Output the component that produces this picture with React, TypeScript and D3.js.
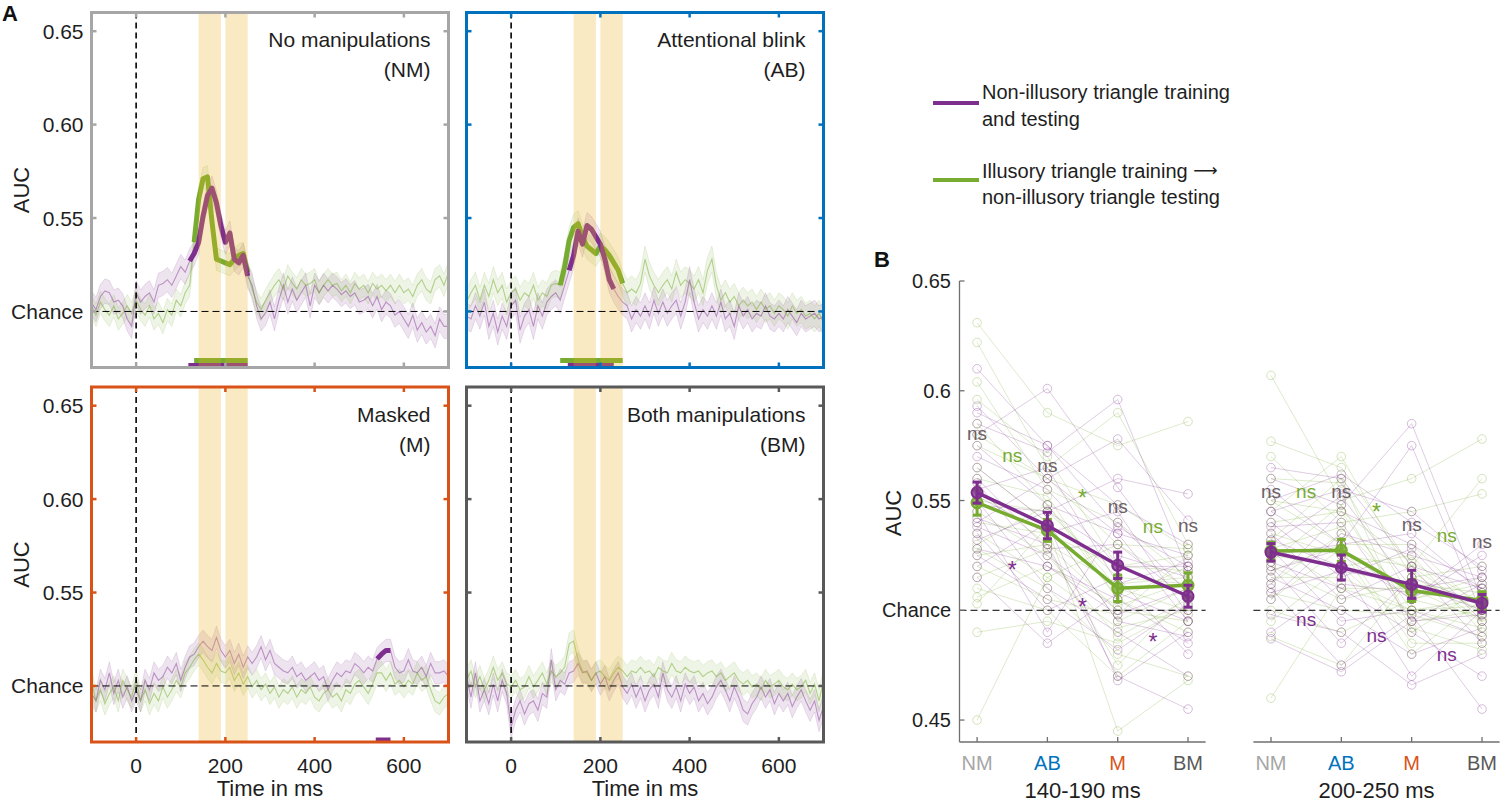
import React from "react";
import * as d3 from "d3";

const FONT = "'Liberation Sans', Arial, Helvetica, sans-serif";
const PURPLE = "#7E2F8E";
const GREEN = "#77AC30";
const YELLOW = "#EDB120";
const INK = "#1e1e1e";

// ---------- panel A: decoding time courses (10 ms steps, -100..700 ms) ----------
const times = d3.range(-100, 701, 10);

const nmPurple = [
  0.5046, 0.501, 0.508, 0.511, 0.51, 0.505, 0.506, 0.503, 0.496, 0.492,
  0.51, 0.505, 0.508, 0.51, 0.505, 0.514, 0.515, 0.517, 0.514, 0.519,
  0.524, 0.521, 0.527, 0.531, 0.537, 0.551, 0.562, 0.566, 0.558, 0.546,
  0.537, 0.542, 0.528, 0.526, 0.53, 0.519, 0.514, 0.503, 0.496, 0.499,
  0.505, 0.496, 0.506, 0.514, 0.505, 0.512, 0.506, 0.51, 0.514, 0.503,
  0.514, 0.51, 0.514, 0.511, 0.514, 0.512, 0.509, 0.511, 0.508, 0.51,
  0.505, 0.506, 0.508, 0.503, 0.508, 0.501, 0.505, 0.503, 0.498, 0.5,
  0.496, 0.492, 0.498, 0.49, 0.494, 0.489, 0.492, 0.487, 0.496, 0.492,
  0.492,
];
const nmGreen = [
  0.503, 0.498, 0.505, 0.501, 0.498, 0.503, 0.496, 0.499, 0.503, 0.499,
  0.506, 0.501, 0.498, 0.503, 0.496, 0.499, 0.494, 0.501, 0.498, 0.506,
  0.503, 0.51, 0.514, 0.537, 0.56, 0.571, 0.572, 0.548, 0.528, 0.527,
  0.526, 0.525, 0.528, 0.53, 0.531, 0.521, 0.512, 0.505, 0.501, 0.506,
  0.51, 0.514, 0.517, 0.512, 0.519, 0.515, 0.512, 0.517, 0.514, 0.515,
  0.517, 0.51, 0.514, 0.517, 0.514, 0.515, 0.511, 0.514, 0.51, 0.515,
  0.512, 0.514, 0.51, 0.515, 0.512, 0.514, 0.511, 0.514, 0.51, 0.514,
  0.51, 0.512, 0.508, 0.514, 0.517, 0.512, 0.51, 0.517, 0.519, 0.514,
  0.521,
];
const abPurple = [
  0.4975, 0.496, 0.503, 0.4975, 0.505, 0.492, 0.499, 0.489, 0.4975, 0.492,
  0.503, 0.506, 0.49, 0.4975, 0.501, 0.492, 0.503, 0.4975, 0.505, 0.508,
  0.51, 0.506, 0.514, 0.522, 0.53, 0.543, 0.536, 0.546, 0.544, 0.54,
  0.536, 0.528, 0.517, 0.512, 0.508, 0.505, 0.503, 0.496, 0.501, 0.4975,
  0.503, 0.4975, 0.506, 0.499, 0.505, 0.499, 0.503, 0.506, 0.4975, 0.505,
  0.517, 0.505, 0.496, 0.501, 0.4975, 0.503, 0.4975, 0.505, 0.496, 0.499,
  0.492, 0.503, 0.4975, 0.501, 0.496, 0.499, 0.4975, 0.503, 0.4975, 0.496,
  0.499, 0.496, 0.501, 0.4975, 0.494, 0.499, 0.496, 0.4975, 0.499, 0.496,
  0.4975,
];
const abGreen = [
  0.505, 0.51, 0.514, 0.506, 0.514, 0.508, 0.517, 0.51, 0.514, 0.505,
  0.51, 0.512, 0.506, 0.51, 0.508, 0.514, 0.506, 0.51, 0.508, 0.514,
  0.515, 0.514, 0.524, 0.538, 0.545, 0.547, 0.54, 0.535, 0.533, 0.531,
  0.535, 0.533, 0.53, 0.526, 0.522, 0.515, 0.51, 0.512, 0.51, 0.515,
  0.528, 0.519, 0.514, 0.51, 0.514, 0.517, 0.512, 0.521, 0.514, 0.517,
  0.515, 0.512, 0.517, 0.51, 0.522, 0.528, 0.514, 0.506, 0.51, 0.505,
  0.508, 0.503, 0.506, 0.503, 0.505, 0.501, 0.505, 0.501, 0.503, 0.499,
  0.503, 0.501, 0.4975, 0.503, 0.499, 0.501, 0.4975, 0.499, 0.496, 0.499,
  0.494,
];
const mPurple = [
  0.496, 0.492, 0.503, 0.498, 0.507, 0.496, 0.503, 0.494, 0.4995, 0.492,
  0.498, 0.492, 0.503, 0.498, 0.507, 0.503, 0.505, 0.51, 0.507, 0.512,
  0.503, 0.51, 0.5155, 0.517, 0.521, 0.524, 0.521, 0.519, 0.526, 0.519,
  0.5155, 0.519, 0.512, 0.517, 0.51, 0.5155, 0.512, 0.5155, 0.521, 0.514,
  0.519, 0.512, 0.51, 0.508, 0.507, 0.51, 0.505, 0.507, 0.503, 0.505,
  0.507, 0.503, 0.505, 0.498, 0.503, 0.507, 0.505, 0.508, 0.507, 0.512,
  0.51, 0.507, 0.51, 0.508, 0.5145, 0.517, 0.519, 0.519, 0.51, 0.507,
  0.508, 0.514, 0.508, 0.507, 0.51, 0.505, 0.512, 0.507, 0.507, 0.508,
  0.505,
];
const mGreen = [
  0.503, 0.492, 0.498, 0.4905, 0.496, 0.4995, 0.492, 0.503, 0.498, 0.494,
  0.503, 0.492, 0.498, 0.4905, 0.496, 0.492, 0.4995, 0.494, 0.498, 0.503,
  0.4995, 0.507, 0.51, 0.514, 0.517, 0.514, 0.51, 0.507, 0.512, 0.508,
  0.507, 0.51, 0.503, 0.507, 0.501, 0.505, 0.4995, 0.503, 0.498, 0.501,
  0.496, 0.4995, 0.494, 0.498, 0.496, 0.4995, 0.494, 0.498, 0.496, 0.4995,
  0.494, 0.492, 0.496, 0.498, 0.494, 0.496, 0.492, 0.498, 0.496, 0.501,
  0.503, 0.4995, 0.496, 0.501, 0.507, 0.507, 0.503, 0.507, 0.501, 0.503,
  0.4995, 0.503, 0.501, 0.507, 0.503, 0.505, 0.498, 0.492, 0.4905, 0.494,
  0.496,
];
const bmPurple = [
  0.505, 0.494, 0.507, 0.492, 0.498, 0.4905, 0.501, 0.492, 0.503, 0.496,
  0.478, 0.487, 0.492, 0.485, 0.4905, 0.492, 0.487, 0.496, 0.494, 0.514,
  0.498, 0.503, 0.501, 0.507, 0.508, 0.512, 0.507, 0.508, 0.503, 0.507,
  0.501, 0.505, 0.498, 0.503, 0.507, 0.4995, 0.496, 0.501, 0.494, 0.4995,
  0.492, 0.498, 0.501, 0.494, 0.507, 0.498, 0.494, 0.4995, 0.492, 0.501,
  0.496, 0.4995, 0.492, 0.496, 0.4905, 0.494, 0.4995, 0.503, 0.498, 0.492,
  0.4995, 0.494, 0.487, 0.485, 0.4905, 0.494, 0.4995, 0.494, 0.498, 0.4905,
  0.496, 0.492, 0.496, 0.489, 0.494, 0.498, 0.492, 0.487, 0.492, 0.4815,
  0.489,
];
const bmGreen = [
  0.503, 0.508, 0.4995, 0.505, 0.498, 0.503, 0.51, 0.503, 0.507, 0.501,
  0.4995, 0.503, 0.498, 0.4995, 0.505, 0.4995, 0.503, 0.507, 0.501, 0.508,
  0.505, 0.507, 0.51, 0.5225, 0.524, 0.514, 0.508, 0.507, 0.503, 0.507,
  0.508, 0.505, 0.503, 0.507, 0.51, 0.508, 0.505, 0.508, 0.507, 0.51,
  0.507, 0.508, 0.505, 0.51, 0.508, 0.507, 0.512, 0.508, 0.507, 0.51,
  0.508, 0.507, 0.508, 0.505, 0.507, 0.508, 0.505, 0.507, 0.503, 0.505,
  0.507, 0.503, 0.501, 0.503, 0.4995, 0.501, 0.498, 0.503, 0.4995, 0.501,
  0.503, 0.4995, 0.498, 0.501, 0.498, 0.4995, 0.503, 0.496, 0.501, 0.492,
  0.503,
];

const conditionTitles = ["No manipulations", "Attentional blink", "Masked", "Both manipulations"];
const conditionAbbr = ["NM", "AB", "M", "BM"];
const conditionColors = ["#a6a6a6", "#0072BD", "#D95319", "#595959"];
const purpleSeries = [nmPurple, abPurple, mPurple, bmPurple];
const greenSeries = [nmGreen, abGreen, mGreen, bmGreen];
const purpleSem = [0.0065, 0.007, 0.006, 0.006];
const greenSem = [0.006, 0.007, 0.006, 0.006];
// significant clusters [start, end] in ms (null = none)
const purpleSig: (number[] | null)[] = [[120, 250], [130, 230], [540, 570], null];
const greenSig: (number[] | null)[] = [[130, 250], [110, 250], null, null];
const windowsMs = [[140, 190], [200, 250]];

const aYTicks = [0.5, 0.55, 0.6, 0.65];
const aYLabels = ["Chance", "0.55", "0.60", "0.65"];
const aXTicks = [0, 200, 400, 600];

// ---------- panel B: single-subject AUC per condition ----------
const bCategories = ["NM", "AB", "M", "BM"];
const bYTicks = [0.45, 0.5, 0.55, 0.6, 0.65];
const bYLabels = ["0.45", "Chance", "0.55", "0.6", "0.65"];
const bWindowLabels = ["140-190 ms", "200-250 ms"];

const early_purple = [
  [0.61, 0.575, 0.548, 0.53], [0.593, 0.56, 0.578, 0.541], [0.585, 0.572, 0.596, 0.518],
  [0.58, 0.601, 0.556, 0.512], [0.575, 0.548, 0.535, 0.495], [0.57, 0.555, 0.52, 0.52],
  [0.565, 0.54, 0.468, 0.49], [0.56, 0.528, 0.53, 0.505], [0.558, 0.52, 0.505, 0.485],
  [0.555, 0.565, 0.512, 0.522], [0.552, 0.535, 0.545, 0.498], [0.55, 0.51, 0.49, 0.47],
  [0.548, 0.545, 0.525, 0.515], [0.545, 0.49, 0.54, 0.508], [0.542, 0.53, 0.47, 0.455],
  [0.54, 0.56, 0.535, 0.525], [0.538, 0.525, 0.5, 0.5], [0.535, 0.5, 0.515, 0.48],
  [0.532, 0.545, 0.56, 0.553], [0.528, 0.52, 0.498, 0.51], [0.525, 0.505, 0.482, 0.503],
  [0.52, 0.54, 0.495, 0.488], [0.515, 0.485, 0.508, 0.495], [0.59, 0.575, 0.538, 0.52],
];
const early_green = [
  [0.631, 0.59, 0.575, 0.586], [0.622, 0.565, 0.59, 0.53], [0.604, 0.555, 0.54, 0.515],
  [0.596, 0.57, 0.52, 0.525], [0.585, 0.548, 0.51, 0.5], [0.575, 0.56, 0.53, 0.528],
  [0.565, 0.54, 0.495, 0.51], [0.56, 0.552, 0.505, 0.52], [0.555, 0.53, 0.5, 0.495],
  [0.55, 0.545, 0.515, 0.512], [0.545, 0.525, 0.488, 0.505], [0.54, 0.535, 0.52, 0.518],
  [0.535, 0.515, 0.492, 0.5], [0.53, 0.548, 0.505, 0.49], [0.528, 0.51, 0.48, 0.47],
  [0.525, 0.53, 0.512, 0.515], [0.52, 0.505, 0.498, 0.525], [0.515, 0.528, 0.475, 0.508],
  [0.51, 0.5, 0.47, 0.495], [0.506, 0.52, 0.502, 0.513], [0.503, 0.538, 0.445, 0.468],
  [0.49, 0.495, 0.485, 0.502], [0.45, 0.515, 0.53, 0.51], [0.58, 0.56, 0.548, 0.528],
];
const late_purple = [
  [0.565, 0.56, 0.52, 0.51], [0.56, 0.548, 0.585, 0.505], [0.555, 0.53, 0.575, 0.498],
  [0.55, 0.562, 0.54, 0.52], [0.545, 0.525, 0.505, 0.53], [0.54, 0.515, 0.528, 0.495],
  [0.538, 0.54, 0.495, 0.512], [0.535, 0.505, 0.52, 0.485], [0.532, 0.52, 0.47, 0.5],
  [0.53, 0.552, 0.51, 0.515], [0.528, 0.495, 0.5, 0.488], [0.525, 0.53, 0.535, 0.508],
  [0.522, 0.51, 0.49, 0.47], [0.52, 0.485, 0.515, 0.503], [0.518, 0.528, 0.505, 0.525],
  [0.515, 0.5, 0.48, 0.492], [0.512, 0.545, 0.53, 0.51], [0.51, 0.475, 0.498, 0.455],
  [0.508, 0.518, 0.512, 0.5], [0.505, 0.535, 0.525, 0.515], [0.498, 0.49, 0.466, 0.48],
  [0.49, 0.512, 0.508, 0.505], [0.487, 0.472, 0.495, 0.498], [0.545, 0.555, 0.545, 0.518],
];
const late_green = [
  [0.607, 0.55, 0.56, 0.578], [0.577, 0.565, 0.52, 0.56], [0.57, 0.54, 0.545, 0.553],
  [0.56, 0.558, 0.505, 0.515], [0.55, 0.53, 0.53, 0.5], [0.545, 0.57, 0.515, 0.52],
  [0.54, 0.545, 0.5, 0.505], [0.535, 0.525, 0.52, 0.498], [0.532, 0.56, 0.49, 0.51],
  [0.53, 0.51, 0.51, 0.495], [0.528, 0.538, 0.505, 0.512], [0.525, 0.52, 0.525, 0.49],
  [0.522, 0.548, 0.495, 0.5], [0.52, 0.505, 0.512, 0.508], [0.518, 0.53, 0.485, 0.485],
  [0.515, 0.515, 0.5, 0.502], [0.512, 0.535, 0.518, 0.495], [0.508, 0.5, 0.498, 0.488],
  [0.505, 0.528, 0.48, 0.505], [0.5, 0.49, 0.505, 0.497], [0.495, 0.52, 0.492, 0.482],
  [0.488, 0.475, 0.515, 0.5], [0.46, 0.51, 0.5, 0.492], [0.55, 0.545, 0.522, 0.503],
];

const earlyMeanPurple = [0.5536, 0.5386, 0.5205, 0.5064];
const earlyErrPurple = [0.0048, 0.006, 0.006, 0.005];
const earlyMeanGreen = [0.549, 0.5364, 0.51, 0.5114];
const earlyErrGreen = [0.0057, 0.005, 0.006, 0.0057];
const lateMeanPurple = [0.5264, 0.5195, 0.5118, 0.5032];
const lateErrPurple = [0.004, 0.0057, 0.0064, 0.004];
const lateMeanGreen = [0.527, 0.5273, 0.509, 0.5045];
const lateErrGreen = [0.004, 0.005, 0.005, 0.004];

// statistics labels: [category position, AUC, text, group]
const earlyStats: [number, number, string, string][] = [
  [1, 0.5798, "ns", "both"], [1.5, 0.5698, "ns", "green"], [2, 0.5653, "ns", "both"],
  [2.5, 0.5534, "*", "green"], [3, 0.5466, "ns", "both"], [3.5, 0.5375, "ns", "green"],
  [4, 0.5379, "ns", "both"], [1.5, 0.5206, "*", "purple"], [2.5, 0.5038, "*", "purple"],
  [3.5, 0.4878, "*", "purple"],
];
const lateStats: [number, number, string, string][] = [
  [1, 0.5534, "ns", "both"], [1.5, 0.5534, "ns", "green"], [2, 0.5534, "ns", "both"],
  [2.5, 0.5471, "*", "green"], [3, 0.5384, "ns", "both"], [3.5, 0.5334, "ns", "green"],
  [4, 0.5306, "ns", "both"], [1.5, 0.4951, "ns", "purple"], [2.5, 0.4878, "ns", "purple"],
  [3.5, 0.4792, "ns", "purple"],
];

const statColor: Record<string, string> = { both: "#6b6166", green: GREEN, purple: PURPLE };

// ---------- layout ----------
const PW = 357;
const PH = 355;
const panelX = [91.5, 466.5];
const panelY = [12.5, 387];

function TimePanel({ idx }: { idx: number }) {
  const col = idx % 2;
  const row = Math.floor(idx / 2);
  const x0 = panelX[col];
  const y0 = panelY[row];
  const x = d3.scaleLinear().domain([-100, 700]).range([x0, x0 + PW]);
  const y = d3.scaleLinear().domain([0.47, 0.66]).range([y0 + PH, y0]);
  const frame = conditionColors[idx];

  const line = d3.line<number>().x((_, i) => x(times[i])).y((d) => y(d));
  const area = (sem: number) =>
    d3.area<number>().x((_, i) => x(times[i])).y0((d) => y(d - sem)).y1((d) => y(d + sem));
  const sigLine = (sig: number[]) =>
    d3
      .line<number>()
      .defined((_, i) => times[i] >= sig[0] && times[i] <= sig[1])
      .x((_, i) => x(times[i]))
      .y((d) => y(d));

  const pS = purpleSeries[idx];
  const gS = greenSeries[idx];
  const pSig = purpleSig[idx];
  const gSig = greenSig[idx];
  const clipId = `clipA${idx}`;
  const tl = 5;

  return (
    <g>
      <defs>
        <clipPath id={clipId}>
          <rect x={x0} y={y0} width={PW} height={PH} />
        </clipPath>
      </defs>
      <g clipPath={`url(#${clipId})`}>
        <path d={area(purpleSem[idx])(pS) || ""} fill={PURPLE} fillOpacity={0.13} stroke={PURPLE} strokeOpacity={0.18} strokeWidth={0.8} />
        <path d={area(greenSem[idx])(gS) || ""} fill={GREEN} fillOpacity={0.12} stroke={GREEN} strokeOpacity={0.18} strokeWidth={0.8} />
        <path d={line(pS) || ""} fill="none" stroke={PURPLE} strokeOpacity={0.45} strokeWidth={1.1} />
        <path d={line(gS) || ""} fill="none" stroke={GREEN} strokeOpacity={0.5} strokeWidth={1.1} />
        {gSig && <path d={sigLine(gSig)(gS) || ""} fill="none" stroke={GREEN} strokeWidth={5} strokeLinejoin="round" />}
        {pSig && <path d={sigLine(pSig)(pS) || ""} fill="none" stroke={PURPLE} strokeWidth={5} strokeLinejoin="round" />}
        {gSig && <line x1={x(gSig[0])} x2={x(gSig[1])} y1={y0 + PH - 7} y2={y0 + PH - 7} stroke={GREEN} strokeWidth={5} />}
        {pSig && <line x1={x(pSig[0] - 3)} x2={x(pSig[1])} y1={y0 + PH - 2} y2={y0 + PH - 2} stroke={PURPLE} strokeWidth={5} />}
        {windowsMs.map((w, i) => (
          <rect key={i} x={x(w[0])} y={y0} width={x(w[1]) - x(w[0])} height={PH} fill={YELLOW} fillOpacity={0.27} />
        ))}
        <line x1={x(0)} x2={x(0)} y1={y0} y2={y0 + PH} stroke="#000" strokeWidth={1.6} strokeDasharray="6,4" />
        <line x1={x0} x2={x0 + PW} y1={y(0.5)} y2={y(0.5)} stroke="#000" strokeWidth={1} strokeDasharray="7,4" />
      </g>
      {aYTicks.map((t) => (
        <g key={t} stroke={frame} strokeWidth={2.5}>
          <line x1={x0} x2={x0 + tl} y1={y(t)} y2={y(t)} />
          <line x1={x0 + PW - tl} x2={x0 + PW} y1={y(t)} y2={y(t)} />
        </g>
      ))}
      {aXTicks.map((t) => (
        <g key={t} stroke={frame} strokeWidth={2.5}>
          <line x1={x(t)} x2={x(t)} y1={y0} y2={y0 + tl} />
          <line x1={x(t)} x2={x(t)} y1={y0 + PH - tl} y2={y0 + PH} />
        </g>
      ))}
      <rect x={x0} y={y0} width={PW} height={PH} fill="none" stroke={frame} strokeWidth={3} />
      <text x={x0 + PW - 18} y={y0 + 34.5} textAnchor="end" fontSize={21} fill={INK}>
        {conditionTitles[idx]}
      </text>
      <text x={x0 + PW - 18} y={y0 + 64.5} textAnchor="end" fontSize={21} fill={INK}>
        ({conditionAbbr[idx]})
      </text>
      {col === 0 && (
        <g>
          {aYTicks.map((t, i) => (
            <text key={t} x={x0 - 8} y={y(t)} textAnchor="end" dominantBaseline="central" fontSize={21} fill={INK}>
              {aYLabels[i]}
            </text>
          ))}
          <text
            transform={`translate(21,${y0 + PH / 2}) rotate(-90)`}
            textAnchor="middle"
            dominantBaseline="central"
            fontSize={22}
            fill={INK}
          >
            AUC
          </text>
        </g>
      )}
      {row === 1 && (
        <g>
          {aXTicks.map((t) => (
            <text key={t} x={x(t)} y={y0 + PH + 23} textAnchor="middle" dominantBaseline="central" fontSize={21} fill={INK}>
              {t}
            </text>
          ))}
          <text x={x0 + PW / 2} y={y0 + PH + 54} textAnchor="middle" fontSize={22} fill={INK}>
            Time in ms
          </text>
        </g>
      )}
    </g>
  );
}

const yB = d3.scaleLinear().domain([0.44, 0.65]).range([742, 281]);
const AXIS = "#6f6f6f";

function WindowPanel({ w }: { w: number }) {
  const range = w === 0 ? [959.5, 1205.6] : [1253.4, 1499.6];
  const x = d3.scaleLinear().domain([0.75, 4.25]).range(range);
  const line = d3.line<number>().x((_, i) => x(i + 1)).y((d) => yB(d));
  const purple = w === 0 ? early_purple : late_purple;
  const green = w === 0 ? early_green : late_green;
  const meanP = w === 0 ? earlyMeanPurple : lateMeanPurple;
  const errP = w === 0 ? earlyErrPurple : lateErrPurple;
  const meanG = w === 0 ? earlyMeanGreen : lateMeanGreen;
  const errG = w === 0 ? earlyErrGreen : lateErrGreen;
  const stats = w === 0 ? earlyStats : lateStats;

  const subjects = (data: number[][], color: string) =>
    data.map((s, k) => (
      <g key={k}>
        <path d={line(s) || ""} fill="none" stroke={color} strokeOpacity={0.28} strokeWidth={0.9} />
        {s.map((v, i) => (
          <circle key={i} cx={x(i + 1)} cy={yB(v)} r={4.3} fill="none" stroke={color} strokeOpacity={0.36} strokeWidth={0.9} />
        ))}
      </g>
    ));

  const means = (m: number[], e: number[], color: string) => (
    <g>
      <path d={line(m) || ""} fill="none" stroke={color} strokeWidth={3.5} />
      {m.map((v, i) => (
        <g key={i} stroke={color} strokeWidth={3}>
          <line x1={x(i + 1)} x2={x(i + 1)} y1={yB(v - e[i])} y2={yB(v + e[i])} />
          <line x1={x(i + 1) - 4.5} x2={x(i + 1) + 4.5} y1={yB(v - e[i])} y2={yB(v - e[i])} />
          <line x1={x(i + 1) - 4.5} x2={x(i + 1) + 4.5} y1={yB(v + e[i])} y2={yB(v + e[i])} />
          <circle cx={x(i + 1)} cy={yB(v)} r={5.5} fill={color} fillOpacity={0.75} strokeWidth={2} />
        </g>
      ))}
    </g>
  );

  return (
    <g>
      {subjects(green, GREEN)}
      {subjects(purple, PURPLE)}
      <line x1={range[0]} x2={range[1]} y1={yB(0.5)} y2={yB(0.5)} stroke="#000" strokeWidth={1} strokeDasharray="7,4" />
      {means(meanG, errG, GREEN)}
      {means(meanP, errP, PURPLE)}
      {stats.map(([c, v, t, g], i) => (
        <text
          key={i}
          x={x(c)}
          y={yB(v) + (t === "*" ? 13 : 5)}
          textAnchor="middle"
          fontSize={t === "*" ? 23 : 19}
          fill={statColor[g]}
        >
          {t}
        </text>
      ))}
      <line x1={range[0]} x2={range[1]} y1={742} y2={742} stroke={AXIS} strokeWidth={1.3} />
      {bCategories.map((c, i) => (
        <g key={c}>
          <line x1={x(i + 1)} x2={x(i + 1)} y1={742} y2={737} stroke={AXIS} strokeWidth={1.3} />
          <text x={x(i + 1)} y={763} textAnchor="middle" dominantBaseline="central" fontSize={20} fill={conditionColors[i]}>
            {c}
          </text>
        </g>
      ))}
      <text x={(x(1) + x(4)) / 2} y={790} textAnchor="middle" dominantBaseline="central" fontSize={22} fill={INK}>
        {bWindowLabels[w]}
      </text>
      {w === 0 && (
        <g>
          <line x1={range[0]} x2={range[0]} y1={yB(0.65)} y2={742} stroke={AXIS} strokeWidth={1.3} />
          {bYTicks.map((t, i) => (
            <g key={t}>
              <line x1={range[0]} x2={range[0] + 5} y1={yB(t)} y2={yB(t)} stroke={AXIS} strokeWidth={1.3} />
              <text x={951} y={yB(t)} textAnchor="end" dominantBaseline="central" fontSize={20} fill={INK}>
                {bYLabels[i]}
              </text>
            </g>
          ))}
          <text transform="translate(893,513) rotate(-90)" textAnchor="middle" dominantBaseline="central" fontSize={22} fill={INK}>
            AUC
          </text>
        </g>
      )}
    </g>
  );
}

export default function App() {
  return (
    <div style={{ position: "absolute", left: 0, top: 0 }}>
      <svg width={1500} height={802} viewBox="0 0 1500 802" style={{ display: "block", fontFamily: FONT }}>
        <rect width={1500} height={802} fill="#fff" />
        {[0, 1, 2, 3].map((i) => (
          <TimePanel key={i} idx={i} />
        ))}
        <WindowPanel w={0} />
        <WindowPanel w={1} />

        <g fontSize={20} fill={INK}>
          <line x1={933} x2={979} y1={103} y2={103} stroke={PURPLE} strokeWidth={4} />
          <text x={982} y={99}>Non-illusory triangle training</text>
          <text x={982} y={126}>and testing</text>
          <line x1={933} x2={979} y1={180} y2={180} stroke={GREEN} strokeWidth={4} />
          <text x={982} y={178}>
            Illusory triangle training{" "}
            <tspan fontFamily="'DejaVu Sans', sans-serif" fontSize={17} dy={-2}>
              {"\u27F6"}
            </tspan>
          </text>
          <text x={982} y={204}>non-illusory triangle testing</text>
        </g>

        <text x={2} y={21} fontSize={22} fontWeight="bold" fill="#111">A</text>
        <text x={874} y={267} fontSize={22} fontWeight="bold" fill="#111">B</text>
      </svg>
    </div>
  );
}
